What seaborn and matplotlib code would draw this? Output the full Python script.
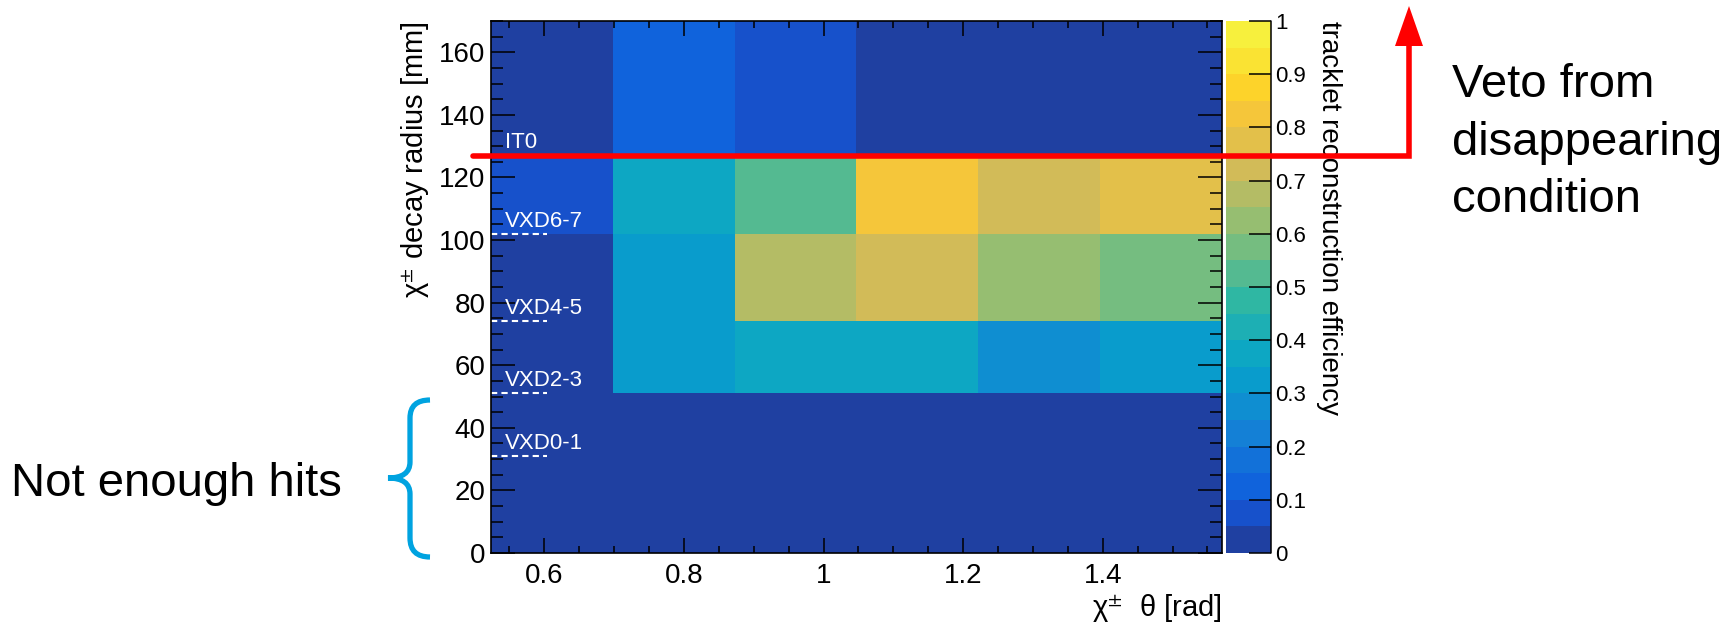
import numpy as np
import pandas as pd
import matplotlib
matplotlib.use("Agg")
import matplotlib.pyplot as plt
import matplotlib.transforms as mtransforms
from matplotlib.colors import ListedColormap, LinearSegmentedColormap
from matplotlib.lines import Line2D
from matplotlib.patches import Polygon, PathPatch
from matplotlib.path import Path
import seaborn as sns

# ---------------- data ----------------
theta_edges = [0.5236, 0.6981, 0.8727, 1.0472, 1.2217, 1.3963, 1.5708]   # rad
radius_edges = [0, 51, 74, 102, 127, 170]                                 # mm
# efficiency per cell: rows = radius bins (bottom -> top), cols = theta bins
eff_r0 = [0.00, 0.00, 0.00, 0.00, 0.00, 0.00]   # 0-51 mm
eff_r1 = [0.00, 0.33, 0.37, 0.37, 0.28, 0.32]   # 51-74 mm
eff_r2 = [0.00, 0.33, 0.67, 0.72, 0.62, 0.57]   # 74-102 mm
eff_r3 = [0.08, 0.37, 0.52, 0.82, 0.72, 0.77]   # 102-127 mm
eff_r4 = [0.00, 0.12, 0.08, 0.00, 0.00, 0.00]   # 127-170 mm
eff_rows = [eff_r0, eff_r1, eff_r2, eff_r3, eff_r4]

layer_names = ["VXD0-1", "VXD2-3", "VXD4-5", "VXD6-7", "IT0"]
layer_radii = [31, 51, 74, 102, 127]
veto_radius = 127

x_ticks = [0.6, 0.8, 1.0, 1.2, 1.4]
y_ticks = [0, 20, 40, 60, 80, 100, 120, 140, 160]
cbar_ticks = [0, 0.1, 0.2, 0.3, 0.4, 0.5, 0.6, 0.7, 0.8, 0.9, 1.0]

# tidy table built from the arrays above
rec = []
for j, row in enumerate(eff_rows):
    for i, v in enumerate(row):
        rec.append({"theta": 0.5 * (theta_edges[i] + theta_edges[i + 1]),
                    "radius": 0.5 * (radius_edges[j] + radius_edges[j + 1]),
                    "eff": v})
df = pd.DataFrame(rec)

# ---------------- style ----------------
sns.set_style("white")
plt.rcParams["font.family"] = ["Liberation Sans", "DejaVu Sans"]
plt.rcParams["mathtext.fontset"] = "stix"
plt.rcParams["text.color"] = "black"
plt.rcParams["axes.labelcolor"] = "black"
plt.rcParams["xtick.color"] = "black"
plt.rcParams["ytick.color"] = "black"
plt.rcParams["axes.axisbelow"] = False

# ROOT kBird palette, 20 contour levels
stops = [0.0, 0.125, 0.25, 0.375, 0.5, 0.625, 0.75, 0.875, 1.0]
red = [0.2082, 0.0592, 0.0780, 0.0232, 0.1802, 0.5301, 0.8186, 0.9956, 0.9764]
green = [0.1664, 0.3599, 0.5041, 0.6419, 0.7178, 0.7492, 0.7328, 0.7862, 0.9832]
blue = [0.5293, 0.8684, 0.8385, 0.7914, 0.6425, 0.4662, 0.3499, 0.1968, 0.0539]
bird = LinearSegmentedColormap.from_list(
    "bird", list(zip(stops, zip(red, green, blue))))
nlev = 20
lev_t = [min(int((i + 0.99) * 255 / nlev), 254) / 254 for i in range(nlev)]
lev_cols = [bird(t)[:3] for t in lev_t]
lev_cols[0] = (0.12, 0.25, 0.63)     # as rendered in the reference
lev_cols[-1] = (0.97, 0.94, 0.24)
lev_cols[-2] = (0.98, 0.89, 0.20)
cmap = ListedColormap(lev_cols)

W, H = 1729, 623
fig = plt.figure(figsize=(W / 100, H / 100), dpi=100)


def fx(px):
    return px / W


def fy(py):
    return 1 - py / H


ax = fig.add_axes([fx(491), fy(553), fx(1222) - fx(491), fy(21) - fy(553)])
cax = fig.add_axes([fx(1226), fy(553), fx(1271) - fx(1226), fy(21) - fy(553)])

sns.histplot(data=df, x="theta", y="radius", weights="eff",
             bins=[theta_edges, radius_edges], thresh=None,
             cmap=cmap, vmin=0, vmax=1, cbar=True, cbar_ax=cax, ax=ax)

ax.set_axisbelow(False)
ax.set_xlim(theta_edges[0], theta_edges[-1])
ax.set_ylim(radius_edges[0], radius_edges[-1])

ax.set_xticks(x_ticks)
ax.set_xticklabels([f"{v:g}" for v in x_ticks])
ax.set_yticks(y_ticks)
ax.set_yticklabels([f"{v:g}" for v in y_ticks])
ax.xaxis.set_minor_locator(matplotlib.ticker.MultipleLocator(0.05))
ax.yaxis.set_minor_locator(matplotlib.ticker.MultipleLocator(5))
ax.tick_params(axis="both", which="both", direction="in",
               top=True, right=True, bottom=True, left=True,
               colors="black", width=1.1)
ax.tick_params(axis="y", which="major", length=17, labelsize=20, pad=4)
ax.tick_params(axis="y", which="minor", length=8.5)
ax.tick_params(axis="x", which="major", length=10.5, labelsize=20, pad=7)
ax.tick_params(axis="x", which="minor", length=5)
for s in ax.spines.values():
    s.set_visible(True)
    s.set_color("black")
    s.set_linewidth(1.2)
    s.set_zorder(6)

ax.set_xlabel("χ$^{\\pm}$  θ [rad]", fontsize=21, ha="right", va="center")
ax.xaxis.set_label_coords(1.0, -0.103)
ax.set_ylabel("χ$^{\\pm}$ decay radius [mm]", fontsize=21, ha="right", va="center")
ax.yaxis.set_label_coords(-0.104, 1.0)

# colorbar
cbar = ax.collections[0].colorbar
cbar.set_ticks(cbar_ticks)
cbar.set_ticklabels([f"{v:g}" for v in cbar_ticks])
cbar.outline.set_visible(False)
cax.set_axisbelow(False)
for s in cax.spines.values():
    s.set_visible(False)
cax.tick_params(axis="y", which="major", direction="in", length=16, width=1.1,
                labelsize=16, pad=3, right=True, left=False, colors="black")
cax.tick_params(axis="y", which="minor", length=0)
cax.add_line(Line2D([1, 1], [0, 1], transform=cax.transAxes, color="black",
                    lw=1.1, clip_on=False, zorder=6))
cax.text(2.3, 1.0, "tracklet reconstruction efficiency", transform=cax.transAxes,
         rotation=270, ha="center", va="top", fontsize=20)

# detector layers
trans_blend = mtransforms.blended_transform_factory(ax.transAxes, ax.transData)
for name, r in zip(layer_names, layer_radii):
    if name != "IT0":
        ax.plot([0, 0.077], [r, r], transform=trans_blend, color="white",
                lw=1.5, ls=(0, (3, 2)), clip_on=False, zorder=5)
    ax.text(0.019, r + 2.3, name, transform=trans_blend, color="white",
            fontsize=16, ha="left", va="baseline", zorder=5)

# red veto line with arrow
y_veto_px = ax.transData.transform((1.0, veto_radius))[1]
y_veto = fig.transFigure.inverted().transform((0, y_veto_px))[1]
fig.add_artist(Line2D([fx(473), fx(1409), fx(1409)], [y_veto, y_veto, fy(44)],
                      transform=fig.transFigure, color="#ff0000", lw=4,
                      solid_joinstyle="miter", zorder=10))
fig.add_artist(Polygon([[fx(1409), fy(6)], [fx(1395), fy(46)], [fx(1423), fy(46)]],
                       closed=True, transform=fig.transFigure,
                       facecolor="#ff0000", edgecolor="none", zorder=10))

# brace
bp = [(430, 400), (410, 400), (410, 418), (410, 462), (410, 478), (388, 478),
      (410, 478), (410, 494), (410, 538), (410, 557), (430, 557)]
codes = [Path.MOVETO, Path.CURVE3, Path.CURVE3, Path.LINETO, Path.CURVE3, Path.CURVE3,
         Path.CURVE3, Path.CURVE3, Path.LINETO, Path.CURVE3, Path.CURVE3]
brace = Path([(fx(x), fy(y)) for x, y in bp], codes)
fig.add_artist(PathPatch(brace, transform=fig.transFigure, facecolor="none",
                         edgecolor="#00a3e0", lw=3.8, zorder=10))

# annotations
fig.text(fx(11), fy(496), "Not enough hits", fontsize=34, ha="left", va="baseline")
for txt, base in zip(["Veto from", "disappearing", "condition"], [97, 155, 212]):
    fig.text(fx(1452), fy(base), txt, fontsize=34, ha="left", va="baseline")

fig.savefig("out.png", dpi=100)
